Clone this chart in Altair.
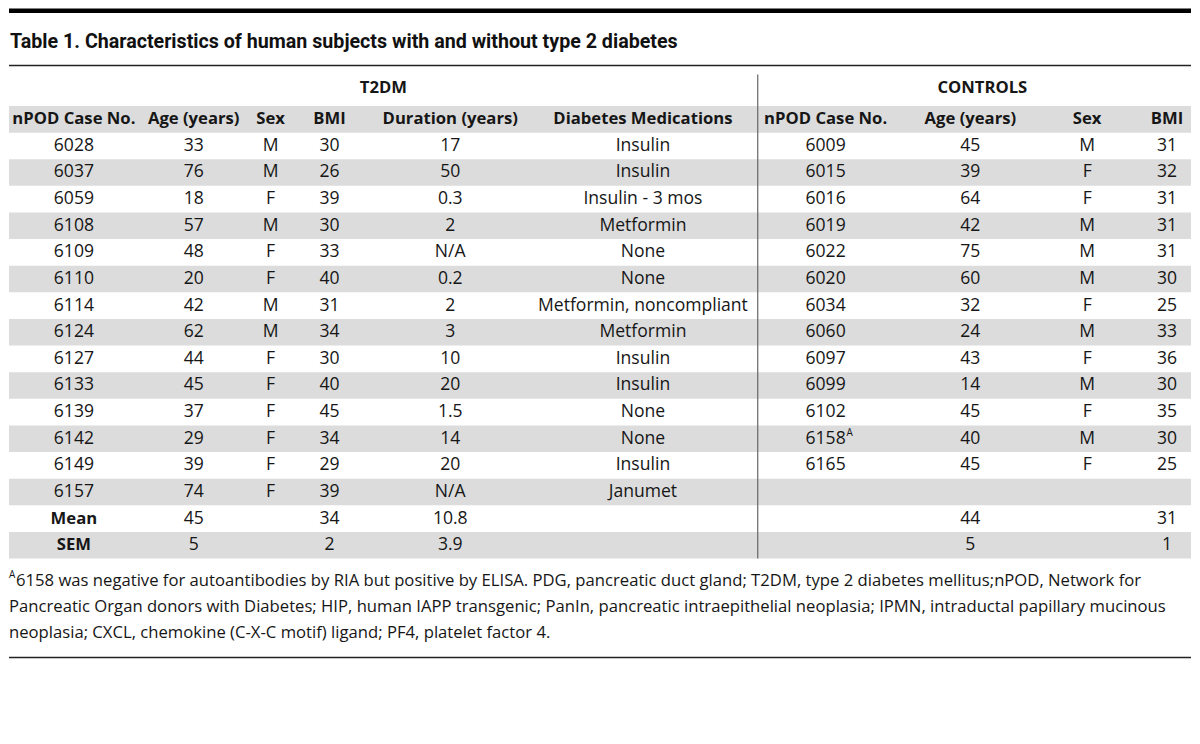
import altair as alt
import pandas as pd

# ---------------- data ----------------
title_text = "Table 1. Characteristics of human subjects with and without type 2 diabetes"
group_labels = ["T2DM", "CONTROLS"]
col_headers = ["nPOD Case No.", "Age (years)", "Sex", "BMI", "Duration (years)", "Diabetes Medications",
               "nPOD Case No.", "Age (years)", "Sex", "BMI"]

t2dm_case = ["6028", "6037", "6059", "6108", "6109", "6110", "6114", "6124", "6127", "6133", "6139", "6142", "6149", "6157"]
t2dm_age = ["33", "76", "18", "57", "48", "20", "42", "62", "44", "45", "37", "29", "39", "74"]
t2dm_sex = ["M", "M", "F", "M", "F", "F", "M", "M", "F", "F", "F", "F", "F", "F"]
t2dm_bmi = ["30", "26", "39", "30", "33", "40", "31", "34", "30", "40", "45", "34", "29", "39"]
t2dm_duration = ["17", "50", "0.3", "2", "N/A", "0.2", "2", "3", "10", "20", "1.5", "14", "20", "N/A"]
t2dm_meds = ["Insulin", "Insulin", "Insulin - 3 mos", "Metformin", "None", "None", "Metformin, noncompliant",
             "Metformin", "Insulin", "Insulin", "None", "None", "Insulin", "Janumet"]

ctrl_case = ["6009", "6015", "6016", "6019", "6022", "6020", "6034", "6060", "6097", "6099", "6102", "6158", "6165"]
ctrl_age = ["45", "39", "64", "42", "75", "60", "32", "24", "43", "14", "45", "40", "45"]
ctrl_sex = ["M", "F", "F", "M", "M", "M", "F", "M", "F", "M", "F", "M", "F"]
ctrl_bmi = ["31", "32", "31", "31", "31", "30", "25", "33", "36", "30", "35", "30", "25"]

summary_labels = ["Mean", "SEM"]
t2dm_summary_age = ["45", "5"]
t2dm_summary_bmi = ["34", "2"]
t2dm_summary_duration = ["10.8", "3.9"]
ctrl_summary_age = ["44", "5"]
ctrl_summary_bmi = ["31", "1"]

superscript_case = "6158"
superscript_mark = "A"
footnote_lines = [
    "6158 was negative for autoantibodies by RIA but positive by ELISA. PDG, pancreatic duct gland; T2DM, type 2 diabetes mellitus;nPOD, Network for",
    "Pancreatic Organ donors with Diabetes; HIP, human IAPP transgenic; PanIn, pancreatic intraepithelial neoplasia; IPMN, intraductal papillary mucinous",
    "neoplasia; CXCL, chemokine (C-X-C motif) ligand; PF4, platelet factor 4.",
]

# ---------------- layout (styling) ----------------
W, H = 1184, 720
COL_X = [65, 185, 262, 321, 442, 635, 818, 963, 1080, 1160]
GROUP_X = [375, 975]
TITLE_Y = 33
RULE1_Y = 57
GROUP_Y = 80
HEADER_Y = 111
ROW0_Y = 137.5
ROW_H = 26.67
FOOT_Y0 = 573
FOOT_DY = 26.2
RULE2_Y = 650
DIVIDER_X = 750
GREY = "#dcdcdc"
INK = "#161616"
BODY_FONT = "Open Sans"
HEAD_FONT = "Open Sans"
TITLE_FONT = "Roboto"

def row_y(i):
    return ROW0_Y + ROW_H * i

n_rows = len(t2dm_case) + len(summary_labels)

xs = alt.Scale(domain=[0, W], nice=False, zero=False)
ys = alt.Scale(domain=[0, H], nice=False, zero=False, reverse=True)
X = lambda f: alt.X(f, type="quantitative", scale=xs, axis=None)
Y = lambda f: alt.Y(f, type="quantitative", scale=ys, axis=None)

# grey bands: header + every other row
bands = [{"x": 0, "x2": W, "y": HEADER_Y - ROW_H / 2, "y2": HEADER_Y + ROW_H / 2}]
for i in range(n_rows):
    if i % 2 == 1:
        bands.append({"x": 0, "x2": W, "y": row_y(i) - ROW_H / 2, "y2": row_y(i) + ROW_H / 2})
bands_df = pd.DataFrame(bands)
band_layer = alt.Chart(bands_df).mark_rect(color=GREY).encode(
    x=X("x"), x2="x2", y=Y("y"), y2="y2")

top_bar = alt.Chart(pd.DataFrame([{"x": 0, "x2": W, "y": 0, "y2": 4.5}])).mark_rect(color="#000").encode(
    x=X("x"), x2="x2", y=Y("y"), y2="y2")

rules_df = pd.DataFrame([
    {"x": 0, "x2": W, "y": RULE1_Y, "y2": RULE1_Y},
    {"x": 0, "x2": W, "y": RULE2_Y, "y2": RULE2_Y},
])
rules = alt.Chart(rules_df).mark_rule(color="#222", strokeWidth=1.4).encode(
    x=X("x"), x2="x2", y=Y("y"), y2="y2")

divider = alt.Chart(pd.DataFrame([{"x": DIVIDER_X, "y": 66, "y2": row_y(n_rows - 1) + ROW_H / 2}])).mark_rule(
    color="#666", strokeWidth=1.2).encode(x=X("x"), y=Y("y"), y2="y2")

title = alt.Chart(pd.DataFrame([{"x": 1, "y": TITLE_Y, "t": title_text}])).mark_text(
    align="left", baseline="middle", font=TITLE_FONT, fontWeight="bold", fontSize=19.7, color="#111").encode(
    x=X("x"), y=Y("y"), text="t:N")

head_style = dict(align="center", baseline="middle", font=HEAD_FONT, fontWeight="bold", fontSize=16.7, color=INK)

groups = alt.Chart(pd.DataFrame({"x": GROUP_X, "y": [GROUP_Y] * 2, "t": group_labels})).mark_text(
    **head_style).encode(x=X("x"), y=Y("y"), text="t:N")

headers = alt.Chart(pd.DataFrame({"x": COL_X, "y": [HEADER_Y] * len(COL_X), "t": col_headers})).mark_text(
    **head_style).encode(x=X("x"), y=Y("y"), text="t:N")

cells = []
t2dm_cols = [t2dm_case, t2dm_age, t2dm_sex, t2dm_bmi, t2dm_duration, t2dm_meds]
for c, col in enumerate(t2dm_cols):
    for i, v in enumerate(col):
        cells.append({"x": COL_X[c], "y": row_y(i), "t": v})
ctrl_cols = [ctrl_case, ctrl_age, ctrl_sex, ctrl_bmi]
for c, col in enumerate(ctrl_cols):
    for i, v in enumerate(col):
        cells.append({"x": COL_X[6 + c], "y": row_y(i), "t": v})
base_i = len(t2dm_case)
for k in range(len(summary_labels)):
    yy = row_y(base_i + k)
    cells.append({"x": COL_X[1], "y": yy, "t": t2dm_summary_age[k]})
    cells.append({"x": COL_X[3], "y": yy, "t": t2dm_summary_bmi[k]})
    cells.append({"x": COL_X[4], "y": yy, "t": t2dm_summary_duration[k]})
    cells.append({"x": COL_X[7], "y": yy, "t": ctrl_summary_age[k]})
    cells.append({"x": COL_X[9], "y": yy, "t": ctrl_summary_bmi[k]})
cells_layer = alt.Chart(pd.DataFrame(cells)).mark_text(
    align="center", baseline="middle", font=BODY_FONT, fontSize=17.6, color=INK).encode(
    x=X("x"), y=Y("y"), text="t:N")

summary_layer = alt.Chart(pd.DataFrame({
    "x": [COL_X[0]] * 2, "y": [row_y(base_i + k) for k in range(2)], "t": summary_labels})).mark_text(
    **head_style).encode(x=X("x"), y=Y("y"), text="t:N")

sup_i = ctrl_case.index(superscript_case)
sup_layer = alt.Chart(pd.DataFrame([{"x": COL_X[6], "y": row_y(sup_i), "t": superscript_mark}])).mark_text(
    align="left", baseline="middle", font=BODY_FONT, fontSize=10, color=INK, dx=21, dy=-6).encode(
    x=X("x"), y=Y("y"), text="t:N")

foot_sup = alt.Chart(pd.DataFrame([{"x": 0, "y": FOOT_Y0, "t": superscript_mark}])).mark_text(
    align="left", baseline="middle", font=BODY_FONT, fontSize=10, color=INK, dy=-6).encode(
    x=X("x"), y=Y("y"), text="t:N")

foot_df = pd.DataFrame({
    "x": [7, 0, 0],
    "y": [FOOT_Y0 + FOOT_DY * k for k in range(len(footnote_lines))],
    "t": footnote_lines})
foot_layer = alt.Chart(foot_df).mark_text(
    align="left", baseline="middle", font=BODY_FONT, fontSize=16.7, color=INK).encode(
    x=X("x"), y=Y("y"), text="t:N")

chart = alt.layer(
    band_layer, top_bar, rules, divider, title, groups, headers, cells_layer, summary_layer,
    sup_layer, foot_sup, foot_layer
).properties(width=W, height=H, padding=0, background="white").configure_view(strokeWidth=0)

chart.save("out.html", embed_options={"renderer": "svg", "actions": False})
